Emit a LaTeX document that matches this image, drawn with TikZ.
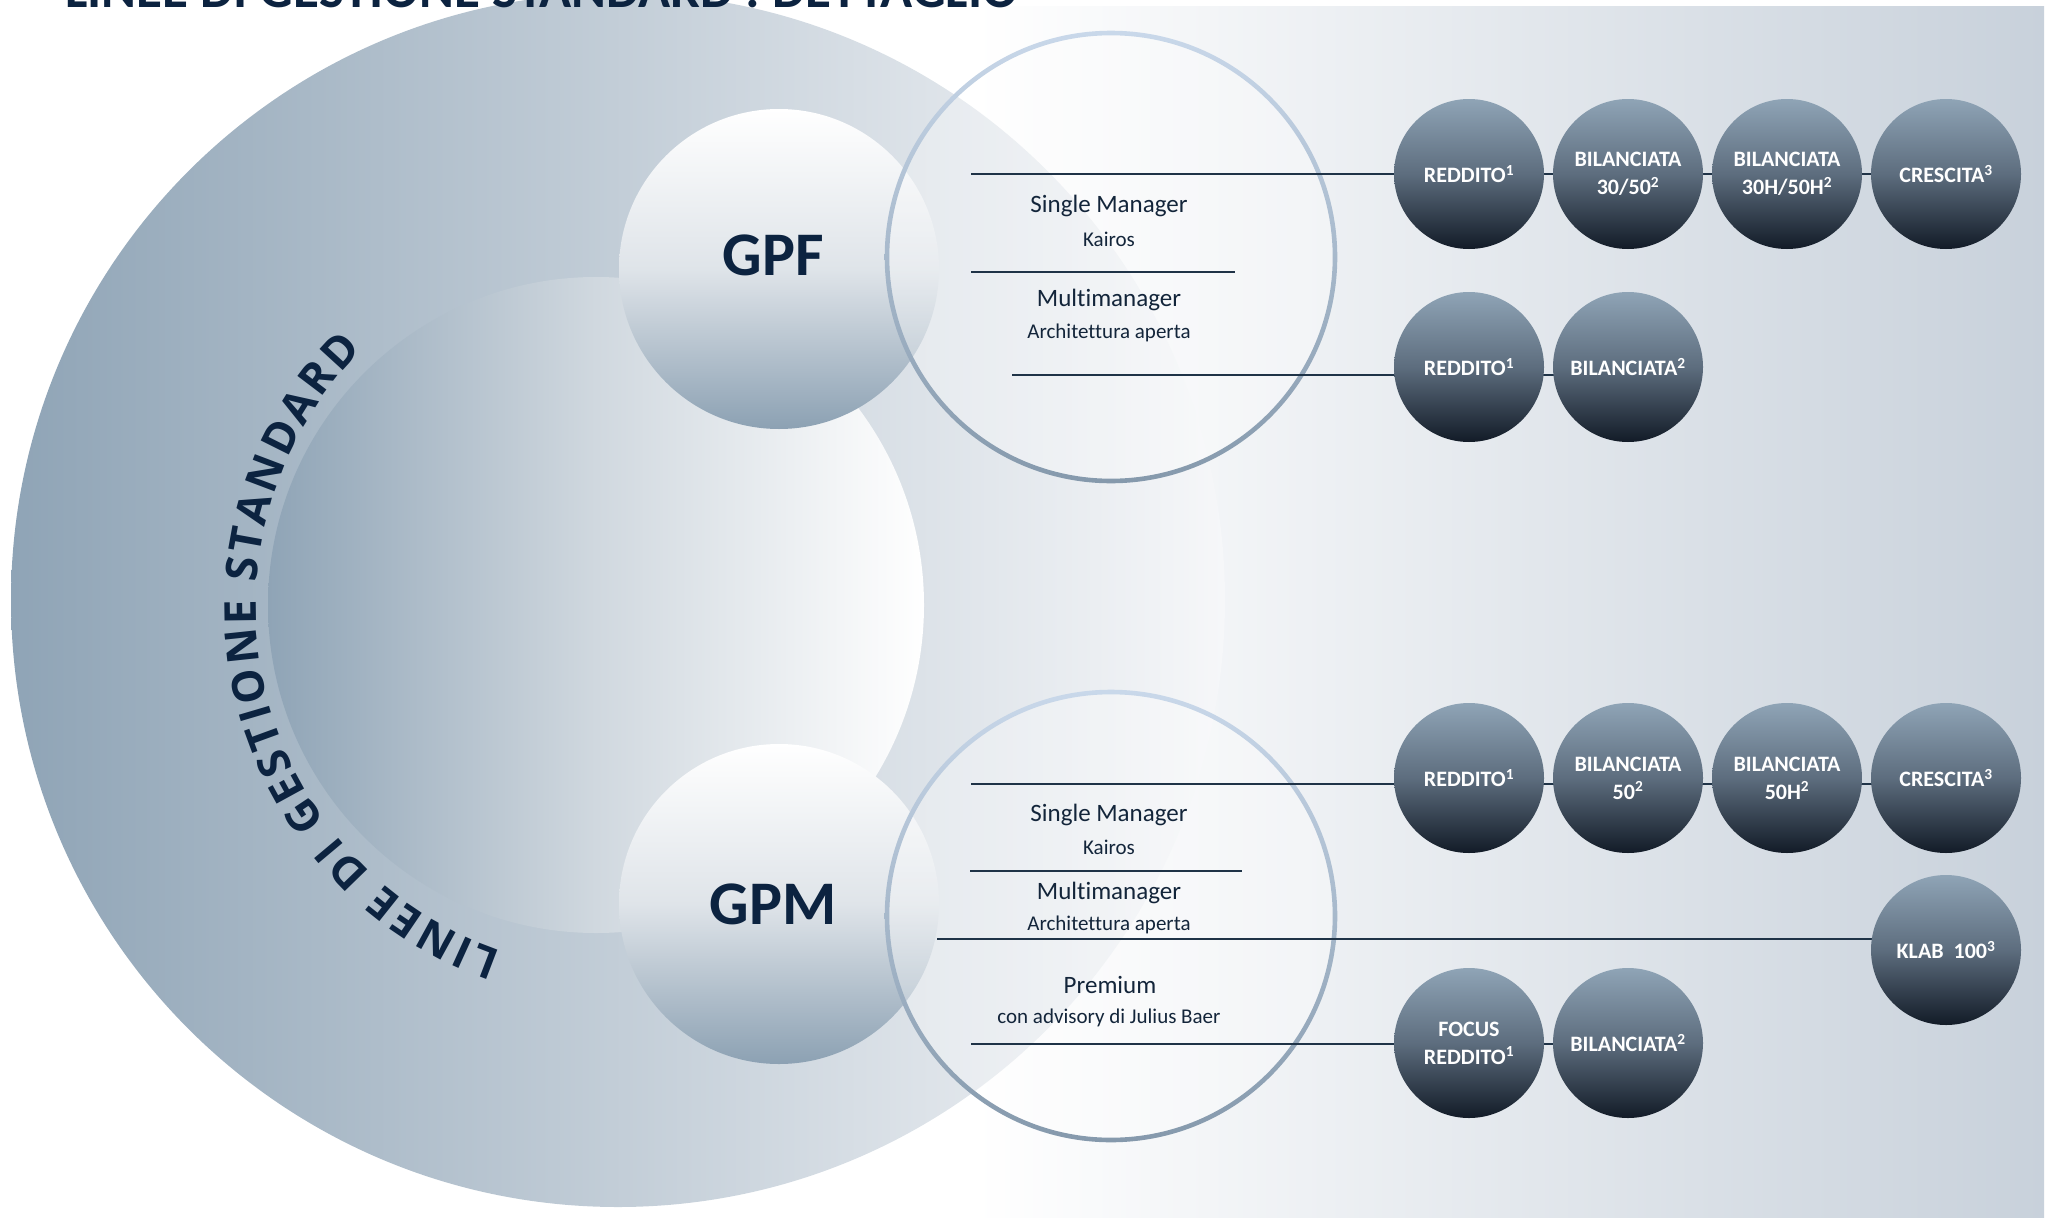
\documentclass[tikz,border=0pt]{standalone}
\usepackage{fontspec}
\setmainfont{Carlito}[Ligatures=NoCommon]
\newfontfamily\arcfont{Open Sans}
\usetikzlibrary{decorations.text,calc}
\definecolor{navy}{HTML}{0C2340}
\definecolor{txtnavy}{HTML}{13253A}
\definecolor{bgR}{HTML}{C8D1DB}
\definecolor{outL}{HTML}{8FA4B6}
\definecolor{outR}{HTML}{F6F7F9}
\definecolor{inL}{HTML}{8FA4B6}
\definecolor{inM}{HTML}{D0D8DF}
\definecolor{ballM}{HTML}{DFE4E9}
\definecolor{ballB}{HTML}{8CA1B3}
\definecolor{ringT}{HTML}{C9D8EA}
\definecolor{ringB}{HTML}{8599AC}
\definecolor{fundT}{HTML}{8FA4B6}
\definecolor{fundM}{HTML}{5D6D7E}
\definecolor{fundB}{HTML}{121B27}
\definecolor{lineC}{HTML}{1F3347}
\pgfdeclarelayer{bg}
\pgfdeclarelayer{lines}
\pgfsetlayers{bg,lines,main}
\tikzset{
  bigball/.style={circle, minimum size=320pt, inner sep=0pt, top color=white, bottom color=ballB, middle color=ballM},
  bigtext/.style={inner sep=0pt, text=navy, font=\fontsize{62}{62}\selectfont\bfseries},
  fund/.style={circle, minimum size=150pt, inner sep=0pt, top color=fundT, bottom color=fundB, middle color=fundM,
    text=white, font=\fontsize{22}{28}\selectfont\bfseries, align=center},
  tmain/.style={inner sep=0pt, text=txtnavy, font=\fontsize{25}{25}\selectfont},
  tsub/.style={inner sep=0pt, text=txtnavy, font=\fontsize{21}{21}\selectfont},
  conn/.style={draw=lineC, line width=1.6pt},
}
\begin{document}
\begin{tikzpicture}[x=1pt,y=1pt]
\useasboundingbox (0,0) rectangle (2048,-1218);
\clip (0,0) rectangle (2048,-1218);
\begin{pgfonlayer}{bg}
  % background gradient
  \shade[left color=white, right color=bgR] (975,-6) rectangle (2044,-1218);
  % big outer circle and inner circle
  \shade[left color=outL, right color=outR] (618,-600) circle[radius=607];
  \shade[left color=inL, right color=white, middle color=inM] (596,-605) circle[radius=328];
  % title (cut at top)
  \node[anchor=base west, inner sep=0pt, text=navy, font=\fontsize{53}{53}\selectfont\bfseries] (title) at (65,-7) {LINEE DI GESTIONE STANDARD : DETTAGLIO};
  % arc text
  \path[decorate, decoration={text along path, text align=fit to path, text color=navy,
      text={|\arcfont\bfseries\fontsize{44}{44}\selectfont|LINEE DI GESTIONE STANDARD}}]
      (620,-607) ++(251:364) arc[start angle=251, end angle=135, radius=364];
  % GPF / GPM balls
  \node[bigball] (gpf) at (779,-269) {};
  \node[bigtext] (gpflabel) at (773,-255) {GPF};
  \node[bigball] (gpm) at (779,-904) {};
  \node[bigtext] (gpmlabel) at (773,-904) {GPM};
  % rings
  \fill[white, fill opacity=0.3] (1111,-257) circle[radius=224];
  \shade[top color=ringT, bottom color=ringB, even odd rule] (1111,-257) circle[radius=226.3] (1111,-257) circle[radius=221.7];
  \fill[white, fill opacity=0.3] (1111,-916) circle[radius=224];
  \shade[top color=ringT, bottom color=ringB, even odd rule] (1111,-916) circle[radius=226.3] (1111,-916) circle[radius=221.7];
  % ring texts GPF
  \node[tmain] (g1) at (1109,-206) {Single Manager};
  \node[tsub]  (g2) at (1109,-239) {Kairos};
  \node[tmain] (g3) at (1109,-300) {Multimanager};
  \node[tsub]  (g4) at (1109,-333) {Architettura aperta};
  % ring texts GPM
  \node[tmain] (p1) at (1109,-815) {Single Manager};
  \node[tsub]  (p2) at (1109,-847) {Kairos};
  \node[tmain] (p3) at (1109,-893) {Multimanager};
  \node[tsub]  (p4) at (1109,-925) {Architettura aperta};
  \node[tmain] (p5) at (1110,-985) {Premium};
  \node[tsub]  (p6) at (1109,-1018) {con advisory di Julius Baer};
\end{pgfonlayer}
% fund circles
\node[fund] (f1a) at (1469,-174) {REDDITO\textsuperscript{1}};
\node[fund] (f1b) at (1628,-174) {BILANCIATA\\30/50\textsuperscript{2}};
\node[fund] (f1c) at (1787,-174) {BILANCIATA\\30H/50H\textsuperscript{2}};
\node[fund] (f1d) at (1946,-174) {CRESCITA\textsuperscript{3}};
\node[fund] (f2a) at (1469,-367) {REDDITO\textsuperscript{1}};
\node[fund] (f2b) at (1628,-367) {BILANCIATA\textsuperscript{2}};
\node[fund] (m1a) at (1469,-778) {REDDITO\textsuperscript{1}};
\node[fund] (m1b) at (1628,-778) {BILANCIATA\\50\textsuperscript{2}};
\node[fund] (m1c) at (1787,-778) {BILANCIATA\\50H\textsuperscript{2}};
\node[fund] (m1d) at (1946,-778) {CRESCITA\textsuperscript{3}};
\node[fund] (klab) at (1946,-950) {KLAB~~100\textsuperscript{3}};
\node[fund] (m3a) at (1469,-1043) {FOCUS\\REDDITO\textsuperscript{1}};
\node[fund] (m3b) at (1628,-1043) {BILANCIATA\textsuperscript{2}};
% connector start points
\coordinate (a1) at (971,-174);
\coordinate (s1a) at (971,-272);
\coordinate (s1b) at (1235,-272);
\coordinate (a3) at (1012,-375);
\coordinate (c1) at (971,-784);
\coordinate (s2a) at (970,-871);
\coordinate (s2b) at (1242,-871);
\coordinate (d1) at (937,-939);
\coordinate (e1) at (971,-1044);
\begin{pgfonlayer}{lines}
  \draw[conn] (a1) -- (f1a) -- (f1b) -- (f1c) -- (f1d);
  \draw[conn] (s1a) -- (s1b);
  \draw[conn] (a3) -- (a3 -| f2b);
  \draw[conn] (c1) -- (c1 -| m1d);
  \draw[conn] (s2a) -- (s2b);
  \draw[conn] (d1) -- (d1 -| klab);
  \draw[conn] (e1) -- (e1 -| m3b);
\end{pgfonlayer}
\end{tikzpicture}
\end{document}
